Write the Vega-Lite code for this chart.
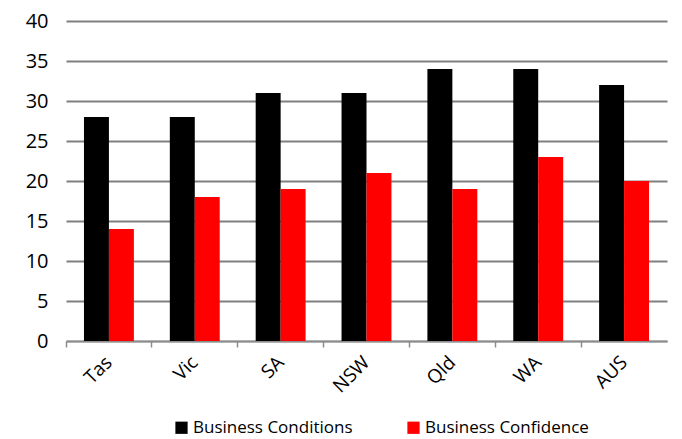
{
  "$schema": "https://vega.github.io/schema/vega-lite/v6.json",
  "width": 601,
  "height": 320,
  "autosize": {"type": "none"},
  "padding": {"left": 66, "top": 21, "right": 15, "bottom": 98},
  "background": "white",
  "data": {
    "values": [
      {"region": "Tas", "series": "Business Conditions", "value": 28},
      {"region": "Tas", "series": "Business Confidence", "value": 14},
      {"region": "Vic", "series": "Business Conditions", "value": 28},
      {"region": "Vic", "series": "Business Confidence", "value": 18},
      {"region": "SA", "series": "Business Conditions", "value": 31},
      {"region": "SA", "series": "Business Confidence", "value": 19},
      {"region": "NSW", "series": "Business Conditions", "value": 31},
      {"region": "NSW", "series": "Business Confidence", "value": 21},
      {"region": "Qld", "series": "Business Conditions", "value": 34},
      {"region": "Qld", "series": "Business Confidence", "value": 19},
      {"region": "WA", "series": "Business Conditions", "value": 34},
      {"region": "WA", "series": "Business Confidence", "value": 23},
      {"region": "AUS", "series": "Business Conditions", "value": 32},
      {"region": "AUS", "series": "Business Confidence", "value": 20}
    ]
  },
  "mark": {"type": "bar"},
  "encoding": {
    "x": {
      "field": "region",
      "type": "nominal",
      "sort": null,
      "scale": {"paddingInner": 0, "paddingOuter": 0},
      "axis": {
        "title": null,
        "labelAngle": -45,
        "labelAlign": "right",
        "labelBaseline": "middle",
        "labelFont": "Open Sans",
        "labelFontSize": 19,
        "labelColor": "#000000",
        "labelPadding": 12,
        "bandPosition": 0,
        "domainColor": "#8c8c8c",
        "domainWidth": 1.5,
        "tickColor": "#8c8c8c",
        "tickWidth": 1.5,
        "tickSize": 6,
        "grid": false
      }
    },
    "xOffset": {
      "field": "series",
      "type": "nominal",
      "scale": {"paddingInner": 0, "paddingOuter": 0.72}
    },
    "y": {
      "field": "value",
      "type": "quantitative",
      "scale": {"domain": [0, 40]},
      "axis": {
        "title": null,
        "values": [0, 5, 10, 15, 20, 25, 30, 35, 40],
        "labelFont": "Open Sans",
        "labelFontSize": 20,
        "labelColor": "#000000",
        "labelPadding": 18,
        "domain": false,
        "ticks": false,
        "gridColor": "#808080",
        "gridWidth": 1.8,
        "gridOpacity": 1
      }
    },
    "color": {
      "field": "series",
      "type": "nominal",
      "scale": {"domain": ["Business Conditions", "Business Confidence"], "range": ["#000000", "#ff0000"]},
      "legend": {
        "title": null,
        "orient": "none",
        "direction": "horizontal",
        "legendX": 107,
        "legendY": 398,
        "symbolType": "square",
        "symbolSize": 150,
        "symbolStrokeWidth": 0,
        "symbolOpacity": 1,
        "labelFont": "Open Sans",
        "labelFontSize": 17,
        "labelLimit": 300,
        "labelColor": "#000000",
        "labelOffset": 3,
        "columnPadding": 52
      }
    }
  },
  "config": {"view": {"stroke": null}}
}
